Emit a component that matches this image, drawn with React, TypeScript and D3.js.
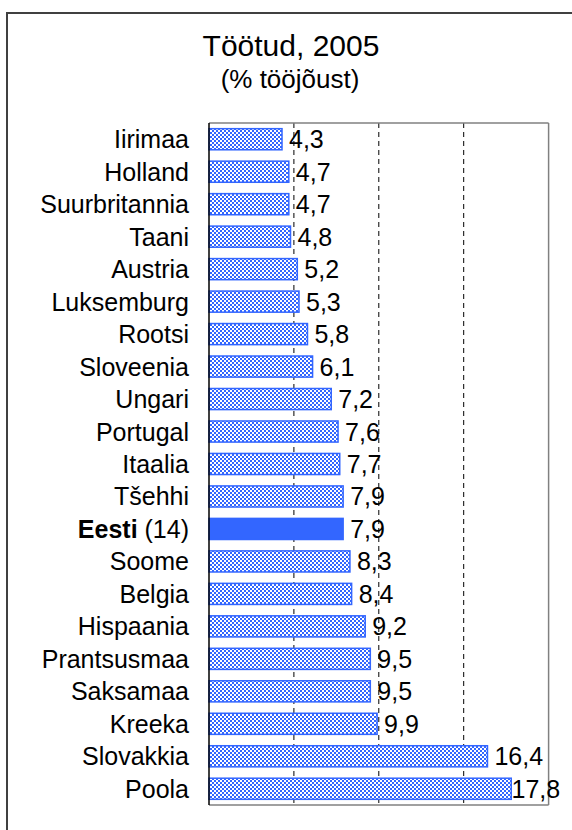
import React from "react";
import * as d3 from "d3";

const countries = [
  "Iirimaa", "Holland", "Suurbritannia", "Taani", "Austria", "Luksemburg", "Rootsi",
  "Sloveenia", "Ungari", "Portugal", "Itaalia", "Tšehhi", "Eesti", "Soome", "Belgia",
  "Hispaania", "Prantsusmaa", "Saksamaa", "Kreeka", "Slovakkia", "Poola",
];
const values = [
  4.3, 4.7, 4.7, 4.8, 5.2, 5.3, 5.8, 6.1, 7.2, 7.6, 7.7, 7.9, 7.9, 8.3, 8.4, 9.2, 9.5, 9.5,
  9.9, 16.4, 17.8,
];
const highlightCountry = "Eesti";
const highlightRank = " (14)";
const gridTicks = [5, 10, 15];
const xDomain = [0, 20];
const titleText = "Töötud, 2005";
const subtitleText = "(% tööjõust)";

const W = 572;
const H = 830;
const FONT = "'Liberation Sans', Arial, sans-serif";
const BLUE = "#3366FF";

export default function App() {
  const left = 209;
  const right = 548.6;
  const top = 123;
  const bottom = 805;

  const x = d3.scaleLinear().domain(xDomain).range([left, right]);
  const y = d3
    .scaleBand<string>()
    .domain(countries)
    .range([top, bottom])
    .paddingInner(0.35)
    .paddingOuter(0.175);

  const fmt = (v: number) => v.toFixed(1).replace(".", ",");

  return (
    <svg
      width={W}
      height={H}
      style={{ position: "absolute", left: 0, top: 0, background: "#fff" }}
      fontFamily={FONT}
    >
      <defs>
        <pattern id="chk" width={4} height={4} patternUnits="userSpaceOnUse">
          <rect width={4} height={4} fill={BLUE} />
          <rect x={0} y={0} width={2} height={2} fill="#fff" />
          <rect x={2} y={2} width={2} height={2} fill="#fff" />
        </pattern>
      </defs>
      <rect x={0} y={0} width={W} height={H} fill="#fff" />
      <rect x={7} y={13} width={700} height={1000} fill="none" stroke="#404040" strokeWidth={2} />

      <text x={291} y={56} textAnchor="middle" fontSize={30} fill="#000">
        {titleText}
      </text>
      <text x={290} y={88} textAnchor="middle" fontSize={26} fill="#000">
        {subtitleText}
      </text>

      {gridTicks.map((t) => (
        <line
          key={t}
          x1={x(t)}
          x2={x(t)}
          y1={top}
          y2={bottom}
          stroke="#000"
          strokeWidth={1}
          strokeDasharray="5,4"
        />
      ))}

      <line x1={left} x2={right} y1={top} y2={top} stroke="#808080" strokeWidth={1.5} />
      <line x1={right} x2={right} y1={top} y2={bottom} stroke="#808080" strokeWidth={1.5} />
      <line x1={left} x2={right} y1={bottom} y2={bottom} stroke="#808080" strokeWidth={1.5} />

      {countries.map((c, i) => {
        const v = values[i];
        const yy = y(c)!;
        const hl = c === highlightCountry;
        return (
          <rect
            key={c}
            x={x(0)}
            y={yy}
            width={x(v) - x(0)}
            height={y.bandwidth()}
            fill={hl ? BLUE : "url(#chk)"}
            stroke={BLUE}
            strokeWidth={1.5}
          />
        );
      })}

      <line x1={left} x2={left} y1={top} y2={bottom} stroke="#000" strokeWidth={1.5} />

      {countries.map((c, i) => {
        const v = values[i];
        const cy = y(c)! + y.bandwidth() / 2;
        return (
          <text
            key={c}
            x={Math.min(x(v) + 7, 511.5)}
            y={cy}
            dy="0.36em"
            fontSize={25}
            fill="#000"
          >
            {fmt(v)}
          </text>
        );
      })}

      {countries.map((c) => {
        const cy = y(c)! + y.bandwidth() / 2;
        const hl = c === highlightCountry;
        return (
          <text key={c} x={189} y={cy} dy="0.36em" fontSize={25} textAnchor="end" fill="#000">
            {hl ? (
              <>
                <tspan fontWeight="bold">{c}</tspan>
                <tspan>{highlightRank}</tspan>
              </>
            ) : (
              c
            )}
          </text>
        );
      })}
    </svg>
  );
}
